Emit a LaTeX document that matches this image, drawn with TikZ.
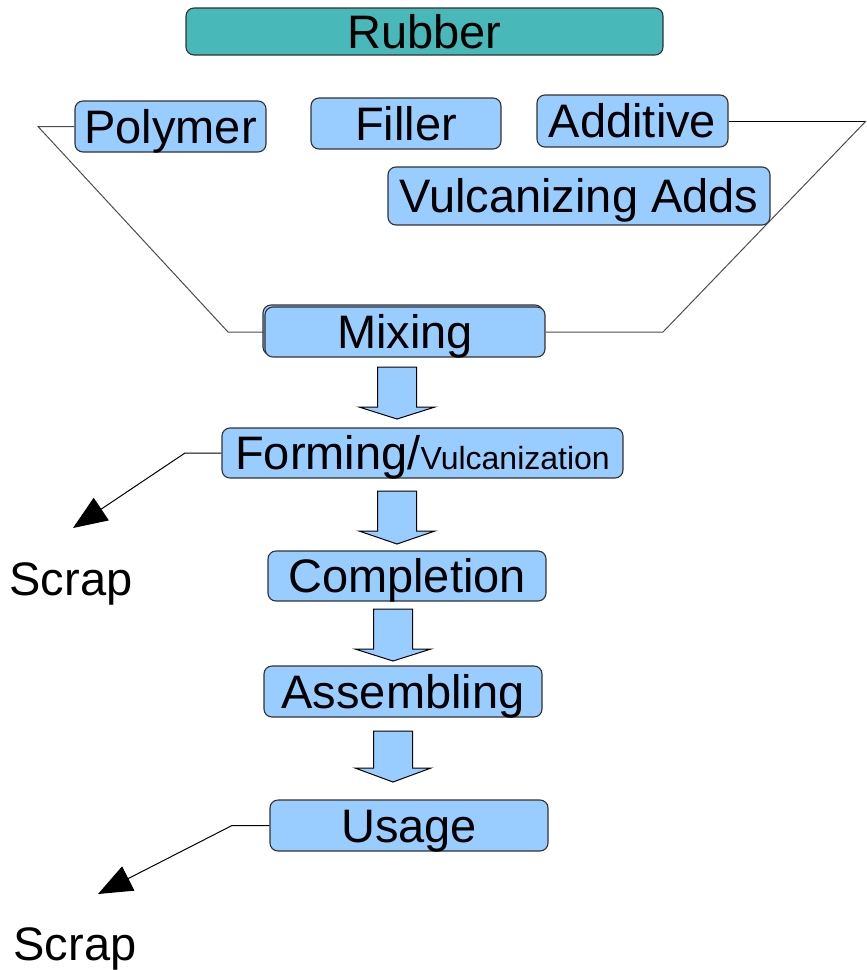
\documentclass[tikz,border=0pt]{standalone}
\usepackage{fontspec}
\setmainfont{Liberation Sans}
\usetikzlibrary{arrows.meta}

\definecolor{boxblue}{RGB}{153,204,255}
\definecolor{rubberteal}{RGB}{72,184,184}
\definecolor{boxline}{RGB}{50,50,50}

\tikzset{
  stage/.style={draw=boxline, fill=boxblue, rounded corners=8pt, line width=1.1pt,
    inner sep=0pt, text height=33.7pt, text depth=0pt,
    font=\fontsize{47}{56}\selectfont, anchor=center},
  label/.style={inner sep=0pt, text height=33.7pt, text depth=0pt,
    font=\fontsize{47}{56}\selectfont, anchor=center},
  feedline/.style={draw=black!70, line width=1pt},
  scrapline/.style={draw=black, line width=1pt, -{Triangle[length=34pt,width=27pt]}},
  blockarrow/.style={draw=black, fill=boxblue, line width=1pt, line join=miter}
}

% vertical block arrow: centre x, top y, head base y, tip y
\newcommand\flowdown[4]{%
  \draw[blockarrow] (#1-19.5,#2) -- (#1+19.5,#2) -- (#1+19.5,#3) -- (#1+38,#3)
    -- (#1,#4) -- (#1-38,#3) -- (#1-19.5,#3) -- cycle;}

\begin{document}
\begin{tikzpicture}[x=1pt,y=-1pt]
\useasboundingbox (0,0) rectangle (867,970);

% raw materials
\node[stage, fill=rubberteal, minimum width=477, minimum height=47] (rubber) at (424.5,31.5) {Rubber};
\node[stage, minimum width=191, minimum height=51] (poly) at (170.5,126.5) {Polymer};
\node[stage, minimum width=190, minimum height=51] (filler) at (406,123.5) {Filler};
\node[stage, minimum width=191, minimum height=52] (additive) at (632.5,121) {Additive};
\node[stage, minimum width=382, minimum height=58] (vulc) at (579,196) {Vulcanizing Adds};

% mixing stage with its doubled edge
\draw[draw=boxline, fill=boxblue, rounded corners=8pt, line width=1.1pt] (263,305) rectangle (543,355);
\node[stage, minimum width=280, minimum height=50] (mix) at (405,332) {Mixing};

% process chain
\node[stage, minimum width=401, minimum height=50] (form) at (422.5,453)
  {Forming/\fontsize{32}{38}\selectfont Vulcanization};
\node[stage, minimum width=278, minimum height=50] (compl) at (407,576) {Completion};
\node[stage, minimum width=278, minimum height=51] (assem) at (403,691.5) {Assembling};
\node[stage, minimum width=278, minimum height=51] (usage) at (409,825.5) {Usage};

% funnel into the mixer
\coordinate (pl) at (38,126.5);
\coordinate (ml) at (228,332);
\coordinate (ar) at (866,121);
\coordinate (mr) at (663,332);
\draw[feedline] (poly.west) -- (pl) -- (ml) -- (mix.west);
\draw[feedline, draw=black] (additive.east) -- (ar);
\draw[feedline] (ar) -- (mr) -- (mix.east);

% flow arrows between stages
\flowdown{397}{367}{407}{419}
\flowdown{397}{491}{531}{544}
\flowdown{393}{609}{649}{661}
\flowdown{393}{731}{768}{782}

% scrap outputs
\node[label] (scrap1) at (71,579) {Scrap};
\node[label] (scrap2) at (75,944) {Scrap};
\coordinate (fk) at (185,453);
\coordinate (ft) at (73,528);
\coordinate (uk) at (232,825.5);
\coordinate (ut) at (98,894);
\draw[scrapline] (form.west) -- (fk) -- (ft);
\draw[scrapline] (usage.west) -- (uk) -- (ut);
\end{tikzpicture}
\end{document}
